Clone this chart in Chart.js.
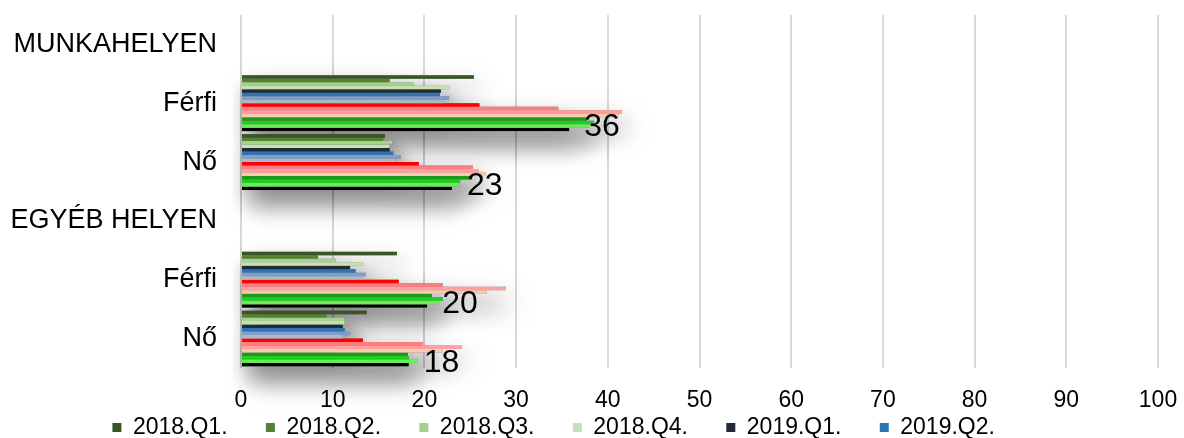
<!DOCTYPE html>
<html>
<head>
<meta charset="utf-8">
<script src="https://cdn.jsdelivr.net/npm/chart.js@4"></script>
<style>
  html, body { margin: 0; padding: 0; background: #fff; }
  #wrap { width: 1184px; height: 438px; }
</style>
</head>
<body>
<div id="wrap"><canvas id="chart"></canvas></div>
<script>
// -------- DATA --------
const categories = ["MUNKAHELYEN", "Férfi", "Nő", "EGYÉB HELYEN", "Férfi", "Nő"];
const quarters = [
  "2018.Q1.", "2018.Q2.", "2018.Q3.", "2018.Q4.",
  "2019.Q1.", "2019.Q2.", "2019.Q3.", "2019.Q4.",
  "2020.Q1.", "2020.Q2.", "2020.Q3.", "2020.Q4.",
  "2021.Q1.", "2021.Q2.", "2021.Q3.", "2021.Q4."
];
// values per quarter: [munka Férfi, munka Nő, egyéb Férfi, egyéb Nő]
const munkaFerfi = [25.4, 16.2, 18.8, 22.7, 21.8, 21.7, 22.7, 22.1, 26.0, 34.6, 41.5, 41.2, 37.7, 38.5, 38.0, 35.8];
const munkaNo    = [15.7, 15.5, 16.5, 16.2, 16.2, 16.6, 17.4, 16.8, 19.4, 25.3, 25.9, 26.7, 25.2, 23.9, 23.9, 23.0];
const egyebFerfi = [17.0, 8.4, 10.3, 13.4, 11.9, 12.5, 13.6, 13.3, 17.2, 22.0, 28.9, 26.8, 20.8, 22.0, 21.7, 20.3];
const egyebNo    = [13.7, 9.3, 11.3, 11.3, 11.1, 11.3, 11.9, 11.1, 13.3, 19.8, 24.1, 22.0, 18.2, 18.3, 19.3, 18.3];
const xTicks = [0, 10, 20, 30, 40, 50, 60, 70, 80, 90, 100];

const colors = [
  "#385723", "#548235", "#a9d18e", "#c5e0b4",
  "#222a35", "#2e75b6", "#7f9fc9", "#adb9ca",
  "#ff0000", "#ff7c80", "#ff9f9f", "#f8cbad",
  "#1a9c1a", "#22cc22", "#66ee55", "#c8c8c8"
];

const datasets = quarters.map((q, i) => {
  const last = i === quarters.length - 1;
  return {
    label: q,
    data: [null, munkaFerfi[i], munkaNo[i], null, egyebFerfi[i], egyebNo[i]],
    backgroundColor: colors[i],
    borderColor: last ? "#000" : colors[i],
    borderWidth: last ? 2 : 0,
    categoryPercentage: 0.95,
    barPercentage: 1.0
  };
});

// soft shadow under the bars
const barShadow = {
  id: "barShadow",
  beforeDatasetsDraw(chart) {
    const ctx = chart.ctx;
    ctx.save();
    ctx.shadowColor = "rgba(0,0,0,0.65)";
    ctx.shadowBlur = 26;
    ctx.shadowOffsetX = 6;
    ctx.shadowOffsetY = 14;
    ctx.fillStyle = "#888";
    chart.data.datasets.forEach((ds, i) => {
      chart.getDatasetMeta(i).data.forEach((bar, j) => {
        if (ds.data[j] == null) return;
        const h = bar.height;
        ctx.fillRect(bar.base, bar.y - h / 2, bar.x - bar.base, h);
      });
    });
    ctx.restore();
  }
};

// value labels for the latest quarter
const lastLabels = {
  id: "lastLabels",
  afterDatasetsDraw(chart) {
    const ctx = chart.ctx;
    const idx = chart.data.datasets.length - 1;
    const ds = chart.data.datasets[idx];
    ctx.save();
    ctx.font = "32px 'Liberation Sans', Arial, sans-serif";
    ctx.fillStyle = "#000";
    ctx.textBaseline = "middle";
    chart.getDatasetMeta(idx).data.forEach((bar, j) => {
      const v = ds.data[j];
      if (v == null) return;
      ctx.fillText(Math.round(v), bar.x + 15, bar.y - 2);
    });
    ctx.restore();
  }
};

const ctx = document.getElementById("chart").getContext("2d");
new Chart(ctx, {
  type: "bar",
  data: { labels: categories, datasets },
  plugins: [barShadow, lastLabels],
  options: {
    indexAxis: "y",
    responsive: true,
    maintainAspectRatio: false,
    animation: false,
    layout: { padding: { top: 15, right: 0, left: 0, bottom: -4 } },
    scales: {
      x: {
        min: 0,
        max: 100,
        afterBuildTicks: (axis) => { axis.ticks = xTicks.map((v) => ({ value: v })); },
        afterFit: (axis) => { axis.paddingLeft = 0; axis.paddingRight = 26; axis.height = 48; },
        grid: { color: "#d9d9d9", lineWidth: 2, drawTicks: false },
        border: { display: false },
        ticks: {
          color: "#000",
          padding: 19,
          font: { family: "'Liberation Sans', Arial", size: 23 }
        }
      },
      y: {
        afterFit: (axis) => { axis.width = 241; axis.paddingTop = 0; axis.paddingBottom = 0; },
        grid: { display: false, drawTicks: false },
        border: { display: false },
        ticks: {
          color: "#000",
          padding: 24,
          font: { family: "'Liberation Sans', Arial, sans-serif", size: 27 }
        }
      }
    },
    plugins: {
      legend: {
        position: "bottom",
        maxHeight: 26,
        labels: {
          boxWidth: 9,
          boxHeight: 9,
          padding: 0,
          color: "#000",
          font: { family: "'Liberation Sans', Arial", size: 23 },
          generateLabels: (chart) =>
            Chart.defaults.plugins.legend.labels.generateLabels(chart)
              .filter((item) => item.datasetIndex < 6)
              .map((item, k) => Object.assign(item, {
                text: item.text + "      " + (k === 5 ? "      " : "")
              }))
        }
      },
      tooltip: { enabled: false }
    }
  }
});
</script>
</body>
</html>
